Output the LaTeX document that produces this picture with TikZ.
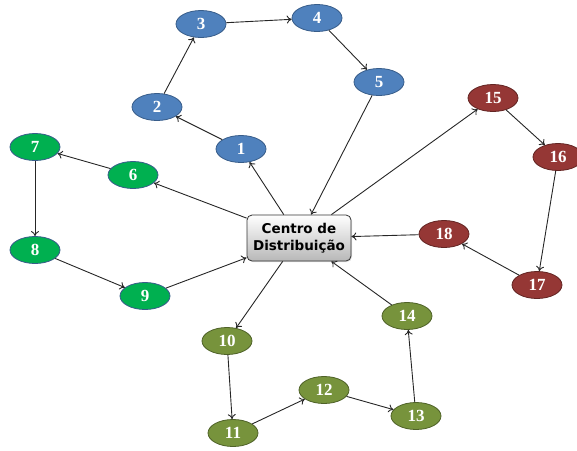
\documentclass[tikz,border=0pt]{standalone}
\usepackage{fontspec}
\setmainfont{Liberation Serif}
\newfontfamily\boxfont{DejaVu Sans}
\usetikzlibrary{shapes.geometric,shadows,arrows.meta}
\definecolor{cblue}{HTML}{4F81BD}
\definecolor{cblueline}{HTML}{385D8A}
\definecolor{cgreen}{HTML}{00B050}
\definecolor{cgreenline}{HTML}{385D8A}
\definecolor{colive}{HTML}{77933C}
\definecolor{coliveline}{HTML}{4F6228}
\definecolor{cred}{HTML}{953735}
\definecolor{credline}{HTML}{632523}
\tikzstyle{node_route} = [ellipse, draw, thick, inner sep=0pt, minimum width=50pt, minimum height=27pt, text=white, font=\bfseries\fontsize{17}{17}\selectfont]
\tikzstyle{node_blue} = [node_route, fill=cblue, draw=cblueline]
\tikzstyle{node_green} = [node_route, fill=cgreen, draw=cgreenline]
\tikzstyle{node_olive} = [node_route, fill=colive, draw=coliveline]
\tikzstyle{node_red} = [node_route, fill=cred, draw=credline]
\tikzstyle{node_depot} = [rectangle, rounded corners=5pt, draw=black!80, thick, top color=white, bottom color=black!28, minimum width=104pt, minimum height=46pt, inner sep=1pt, align=center, text=black, font=\boxfont\bfseries\fontsize{13.5}{17}\selectfont, drop shadow={opacity=0.25, shadow xshift=1pt, shadow yshift=-1pt}]
\tikzstyle{edge_route} = [-{To[length=5pt,width=8pt]}, black!85, line width=0.9pt]

\begin{document}
\begin{tikzpicture}[x=1pt,y=-1pt]
			\useasboundingbox (0,0) rectangle (577,450);
			\node (C) at (299,238) [node_depot] {Centro de\\Distribuição};
			\node (N1) at (241,149) [node_blue] {1};
			\node (N2) at (157,107) [node_blue] {2};
			\node (N3) at (201,24) [node_blue] {3};
			\node (N4) at (317,18) [node_blue] {4};
			\node (N5) at (379,82) [node_blue] {5};
			\node (N6) at (133,175) [node_green] {6};
			\node (N7) at (35,147) [node_green] {7};
			\node (N8) at (35,250) [node_green] {8};
			\node (N9) at (145,296) [node_green] {9};
			\node (N10) at (227,341) [node_olive] {10};
			\node (N11) at (233,433) [node_olive] {11};
			\node (N12) at (324,390) [node_olive] {12};
			\node (N13) at (416,416) [node_olive] {13};
			\node (N14) at (407,316) [node_olive] {14};
			\node (N15) at (493,98) [node_red] {15};
			\node (N16) at (558,157) [node_red] {16};
			\node (N17) at (537,285) [node_red] {17};
			\node (N18) at (444,234) [node_red] {18};
			
			\draw[edge_route] (C)--(N1); \draw[edge_route] (N1)--(N2); \draw[edge_route] (N2)--(N3);
			\draw[edge_route] (N3)--(N4); \draw[edge_route] (N4)--(N5); \draw[edge_route] (N5)--(C);
			\draw[edge_route] (C)--(N6); \draw[edge_route] (N6)--(N7); \draw[edge_route] (N7)--(N8);
			\draw[edge_route] (N8)--(N9); \draw[edge_route] (N9)--(C);
			\draw[edge_route] (C)--(N10); \draw[edge_route] (N10)--(N11); \draw[edge_route] (N11)--(N12);
			\draw[edge_route] (N12)--(N13); \draw[edge_route] (N13)--(N14); \draw[edge_route] (N14)--(C);
			\draw[edge_route] (C)--(N15); \draw[edge_route] (N15)--(N16); \draw[edge_route] (N16)--(N17);
			\draw[edge_route] (N17)--(N18); \draw[edge_route] (N18)--(C);
		\end{tikzpicture}
\end{document}
